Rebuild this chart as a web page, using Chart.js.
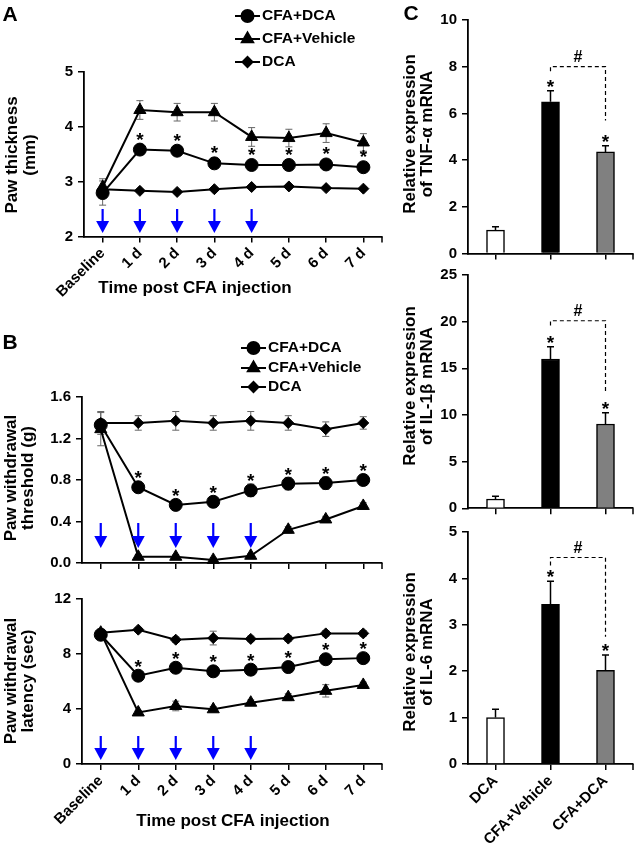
<!DOCTYPE html>
<html><head><meta charset="utf-8">
<script src="https://cdn.jsdelivr.net/npm/chart.js@4.4.1/dist/chart.umd.min.js"></script>
<style>
html,body{margin:0;padding:0;background:#fff;}
#wrap{position:relative;width:635px;height:853px;overflow:hidden;background:#fff;}
canvas{position:absolute;left:0;top:0;}
</style></head><body><div id="wrap">
<canvas id="cA" width="635" height="853"></canvas>
<canvas id="cB1" width="635" height="853"></canvas>
<canvas id="cB2" width="635" height="853"></canvas>
<canvas id="cC1" width="635" height="853"></canvas>
<canvas id="cC2" width="635" height="853"></canvas>
<canvas id="cC3" width="635" height="853"></canvas>
</div>
<script>
// ---------- DATA ----------
const days = ['Baseline','1 d','2 d','3 d','4 d','5 d','6 d','7 d'];
const seriesNames = ['CFA+DCA','CFA+Vehicle','DCA'];
const injectionDays = [0,1,2,3,4];          // blue arrows
const starDays = [1,2,3,4,5,6,7];           // asterisks over CFA+DCA

// Panel A: paw thickness (mm)
const thickCfaDca    = [2.79,3.58,3.56,3.33,3.30,3.30,3.31,3.26];
const thickCfaVeh    = [2.90,4.30,4.26,4.26,3.81,3.79,3.88,3.71];
const thickDca       = [2.86,2.83,2.81,2.86,2.90,2.91,2.88,2.87];
const thickCfaDcaErr = [0.22,0.05,0.05,0.05,0.05,0.05,0.05,0.05];
const thickCfaVehErr = [0.15,0.17,0.16,0.16,0.17,0.16,0.17,0.16];
const thickDcaErr    = [0.04,0.03,0.03,0.03,0.03,0.03,0.03,0.03];
const thickTicks = [2,3,4,5];

// Panel B: paw withdrawal threshold (g)
const thrCfaDca    = [1.33,0.73,0.56,0.59,0.70,0.765,0.77,0.80];
const thrCfaVeh    = [1.29,0.06,0.06,0.03,0.07,0.32,0.42,0.55];
const thrDca       = [1.35,1.35,1.37,1.35,1.37,1.35,1.29,1.35];
const thrCfaDcaErr = [0.05,0.05,0.03,0.05,0.06,0.06,0.06,0.05];
const thrCfaVehErr = [0.16,0.02,0.02,0.02,0.02,0.03,0.03,0.03];
const thrDcaErr    = [0.11,0.07,0.09,0.07,0.09,0.07,0.07,0.06];
const thrTicks = [0,0.4,0.8,1.2,1.6];

// Panel B: paw withdrawal latency (sec)
const latCfaDca    = [9.40,6.42,7.00,6.74,6.86,7.05,7.62,7.70];
const latCfaVeh    = [9.55,3.75,4.22,3.98,4.46,4.86,5.32,5.75];
const latDca       = [9.55,9.77,9.04,9.16,9.10,9.12,9.50,9.50];
const latCfaDcaErr = [0.25,0.25,0.30,0.25,0.20,0.25,0.30,0.30];
const latCfaVehErr = [0.25,0.15,0.35,0.20,0.20,0.25,0.45,0.20];
const latDcaErr    = [0.25,0.15,0.20,0.50,0.20,0.20,0.20,0.20];
const latTicks = [0,4,8,12];

// Panel C: relative mRNA expression
const groups = ['DCA','CFA+Vehicle','CFA+DCA'];
const tnf    = [1.0,6.5,4.35];  const tnfErr  = [0.15,0.47,0.26];
const il1b   = [1.0,16.0,9.03]; const il1bErr = [0.30,1.30,1.20];
const il6    = [1.0,3.44,2.02]; const il6Err  = [0.18,0.50,0.33];
const tnfTicks = [0,2,4,6,8,10];
const il1bTicks = [0,5,10,15,20,25];
const il6Ticks = [0,1,2,3,4,5];
// significance bracket (#) between CFA+Vehicle and CFA+DCA: [top, left end, right end]
const tnfBracket  = [8.0,7.8,5.7];
const il1bBracket = [20.1,19.6,12.5];
const il6Bracket  = [4.45,4.28,2.74];

// ---------- STYLE / HELPERS ----------
const FAM = '"Liberation Sans", Arial, sans-serif';
Chart.defaults.font.family = FAM;
Chart.defaults.font.weight = 'bold';
Chart.defaults.color = '#000';
const W = 635, H = 853, YW = 40, XH = 88;
function pad(a){ return {left:a.l-YW, top:a.t, right:W-a.r, bottom:Math.max(0,H-a.b-XH)}; }

function txt(ctx,s,x,y,size,rot,align){
  ctx.save(); ctx.translate(x,y); ctx.rotate(rot||0);
  ctx.font='bold '+size+'px '+FAM; ctx.textAlign=align||'center'; ctx.textBaseline='middle';
  ctx.fillStyle='#000'; ctx.fillText(s,0,0); ctx.restore();
}
function star(ctx,x,yc,size){
  ctx.save(); ctx.font='bold '+size+'px '+FAM; ctx.textAlign='center'; ctx.textBaseline='alphabetic';
  ctx.fillStyle='#000'; ctx.fillText('*',x,yc+size*0.58); ctx.restore();
}
const markerStyles = [{ps:'circle',r:6.5},{ps:'triangle',r:7},{ps:'rectRot',r:5.5}];

const annot = {
  id:'annot',
  beforeDatasetsDraw(chart,args,o){
    if(o.bars) return;
    drawErr(chart,o);
  },
  afterDatasetsDraw(chart,args,o){
    const ctx=chart.ctx, xs=chart.scales.x, ys=chart.scales.y, a=chart.chartArea;
    if(o.bars) drawErr(chart,o);
    // small closing tick at the right end of the x axis
    ctx.save(); ctx.strokeStyle='#000'; ctx.lineWidth=1.5;
    ctx.beginPath(); ctx.moveTo(a.right,a.bottom); ctx.lineTo(a.right,a.bottom+6); ctx.stroke(); ctx.restore();
    // arrows
    if(o.arrows){
      ctx.save(); ctx.fillStyle='#0000ff'; ctx.strokeStyle='#0000ff';
      o.arrows.forEach(i=>{
        const x=xs.getPixelForValue(i), y0=a.bottom-o.arrowTop, y1=a.bottom-o.arrowBot;
        ctx.lineWidth=2.2; ctx.beginPath(); ctx.moveTo(x,y0); ctx.lineTo(x,y1-10); ctx.stroke();
        ctx.beginPath(); ctx.moveTo(x-6.5,y1-12); ctx.lineTo(x+6.5,y1-12); ctx.lineTo(x,y1); ctx.closePath(); ctx.fill();
      });
      ctx.restore();
    }
    // stars on line chart
    if(o.stars){
      const meta=chart.getDatasetMeta(o.starDs);
      o.stars.forEach(i=>{ const el=meta.data[i]; star(ctx,el.x,el.y-o.starOff,19); });
    }
    // bar stars + bracket
    if(o.bars){
      const ds=chart.data.datasets[0];
      [1,2].forEach(i=>{
        const x=xs.getPixelForValue(i);
        star(ctx,x,ys.getPixelForValue(ds.data[i]+o.err[i])-9,19);
      });
      const b=o.bracket, x1=xs.getPixelForValue(1), x2=xs.getPixelForValue(2);
      const yt=ys.getPixelForValue(b[0]);
      ctx.save(); ctx.strokeStyle='#000'; ctx.lineWidth=1.2; ctx.setLineDash([4,3]);
      ctx.beginPath(); ctx.moveTo(x1,ys.getPixelForValue(b[1])); ctx.lineTo(x1,yt); ctx.lineTo(x2,yt); ctx.lineTo(x2,ys.getPixelForValue(b[2])); ctx.stroke();
      ctx.restore();
      txt(ctx,'#',(x1+x2)/2,yt-9,16);
    }
    // legend
    if(o.legend){
      const L=o.legend;
      seriesNames.forEach((n,k)=>{
        const y=L.y[k];
        ctx.save(); ctx.strokeStyle='#000'; ctx.fillStyle='#000'; ctx.lineWidth=2;
        ctx.beginPath(); ctx.moveTo(L.x,y); ctx.lineTo(L.x+25,y); ctx.stroke();
        const m=markerStyles[k];
        Chart.helpers.drawPoint(ctx,{pointStyle:m.ps,radius:m.r-0.5,rotation:0,borderWidth:1},L.x+12.5,y);
        ctx.restore();
        txt(ctx,n,L.x+27,y,15.5,0,'left');
      });
    }
    // texts
    (o.texts||[]).forEach(t=>txt(ctx,t[0],t[1],t[2],t[3],t[4]||0,t[5]||'center'));
  }
};
function drawErr(chart,o){
  const ctx=chart.ctx, ys=chart.scales.y;
  ctx.save();
  chart.data.datasets.forEach((ds,di)=>{
    const e=o.bars? o.err : o.errs[di];
    const meta=chart.getDatasetMeta(di);
    meta.data.forEach((el,i)=>{
      const v=ds.data[i];
      const x=el.x;
      const yt=ys.getPixelForValue(v+e[i]);
      const yb=o.bars? ys.getPixelForValue(v) : ys.getPixelForValue(v-e[i]);
      ctx.strokeStyle=o.bars?'#000':'#666'; ctx.lineWidth=o.bars?1.5:1;
      ctx.beginPath(); ctx.moveTo(x,yt); ctx.lineTo(x,yb);
      ctx.moveTo(x-3.5,yt); ctx.lineTo(x+3.5,yt);
      if(!o.bars){ ctx.moveTo(x-3.5,yb); ctx.lineTo(x+3.5,yb); }
      ctx.stroke();
    });
  });
  ctx.restore();
}

function xScale(showLabels, labels){
  return {
    type:'category', labels:labels, offset:true,
    grid:{display:true, drawOnChartArea:false, drawTicks:true, tickLength:6, color:'#000', lineWidth:1.5, offset:false},
    border:{display:true, color:'#000', width:1.8},
    ticks:{display:showLabels, autoSkip:false, minRotation:45, maxRotation:45, padding:2, font:{size:15, weight:'bold'}, color:'#000'},
    afterFit(s){ s.height=XH; s.paddingLeft=0; s.paddingRight=0; }
  };
}
function yScale(ticksArr, dec){
  return {
    min:ticksArr[0], max:ticksArr[ticksArr.length-1],
    afterBuildTicks(s){ s.ticks = ticksArr.map(v=>({value:v})); },
    grid:{display:true, drawOnChartArea:false, drawTicks:true, tickLength:6, color:'#000', lineWidth:1.5},
    border:{display:true, color:'#000', width:1.8},
    ticks:{padding:5, font:{size:15, weight:'bold'}, color:'#000', callback:(v)=> dec? Number(v).toFixed(dec) : String(v)},
    afterFit(s){ s.width=YW; s.paddingTop=0; s.paddingBottom=0; }
  };
}
function lineDs(data,k){
  const m=markerStyles[k];
  return {label:seriesNames[k], data:data, borderColor:'#000', borderWidth:2, backgroundColor:'#000',
    pointStyle:m.ps, pointRadius:m.r, pointBackgroundColor:'#000', pointBorderColor:'#000', pointBorderWidth:1,
    tension:0, clip:false};
}
function lineChart(id, area, sets, errs, ticksArr, dec, showX, extra){
  return new Chart(document.getElementById(id), {
    type:'line',
    data:{labels:days, datasets:[lineDs(sets[0],0), lineDs(sets[1],1), lineDs(sets[2],2)]},
    options:{
      responsive:false, animation:false, events:[],
      layout:{padding:pad(area)},
      scales:{x:xScale(showX,days), y:yScale(ticksArr,dec)},
      plugins:{legend:{display:false}, tooltip:{enabled:false},
        annot:Object.assign({errs:errs, arrows:injectionDays, stars:starDays, starDs:0}, extra)}
    },
    plugins:[annot]
  });
}
function barChart(id, area, data, err, ticksArr, bracket, showLabels, extra){
  return new Chart(document.getElementById(id), {
    type:'bar',
    data:{labels:groups, datasets:[{data:data, backgroundColor:['#ffffff','#000000','#808080'], borderColor:'#000', borderWidth:1.5, borderSkipped:'bottom', barThickness:18}]},
    options:{
      responsive:false, animation:false, events:[],
      layout:{padding:pad(area)},
      scales:{x:xScale(showLabels,groups), y:yScale(ticksArr,0)},
      plugins:{legend:{display:false}, tooltip:{enabled:false},
        annot:Object.assign({bars:true, err:err, bracket:bracket}, extra)}
    },
    plugins:[annot]
  });
}

// ---------- CHARTS ----------
lineChart('cA', {l:84,r:382,t:71.5,b:236.5}, [thickCfaDca,thickCfaVeh,thickDca],
  [thickCfaDcaErr,thickCfaVehErr,thickDcaErr], thickTicks, 0, true,
  {arrowTop:27.5, arrowBot:3.5, starOff:15, legend:{x:235,y:[16,39,62]},
   texts:[['A',10,15,21],['Time post CFA injection',195,288,17],
          ['Paw thickness',12,155,17,-Math.PI/2],['(mm)',30,155,17,-Math.PI/2]]});

lineChart('cB1', {l:82,r:382,t:397,b:563}, [thrCfaDca,thrCfaVeh,thrDca],
  [thrCfaDcaErr,thrCfaVehErr,thrDcaErr], thrTicks, 1, false,
  {arrowTop:40, arrowBot:15, starOff:14, legend:{x:241,y:[348,368,387]},
   texts:[['B',10,343,21],
          ['Paw withdrawal',11,478,17,-Math.PI/2],['threshold (g)',28,478,17,-Math.PI/2]]});

lineChart('cB2', {l:82,r:382,t:599,b:764}, [latCfaDca,latCfaVeh,latDca],
  [latCfaDcaErr,latCfaVehErr,latDcaErr], latTicks, 0, true,
  {arrowTop:28, arrowBot:4, starOff:14,
   texts:[['Time post CFA injection',233,821,17],
          ['Paw withdrawal',11,681,17,-Math.PI/2],['latency (sec)',28,681,17,-Math.PI/2]]});

barChart('cC1', {l:468,r:633,t:20,b:253.5}, tnf, tnfErr, tnfTicks, tnfBracket, false,
  {texts:[['C',411,14,21],['Relative expression',410,134,17,-Math.PI/2],['of TNF-\u03b1 mRNA',427,134,17,-Math.PI/2]]});
barChart('cC2', {l:468,r:633,t:275,b:508.3}, il1b, il1bErr, il1bTicks, il1bBracket, false,
  {texts:[['Relative expression',410,386,17,-Math.PI/2],['of IL-1\u03b2 mRNA',427,386,17,-Math.PI/2]]});
barChart('cC3', {l:468,r:633,t:532,b:764}, il6, il6Err, il6Ticks, il6Bracket, true,
  {texts:[['Relative expression',410,652,17,-Math.PI/2],['of IL-6 mRNA',427,652,17,-Math.PI/2]]});
</script>
</body></html>
